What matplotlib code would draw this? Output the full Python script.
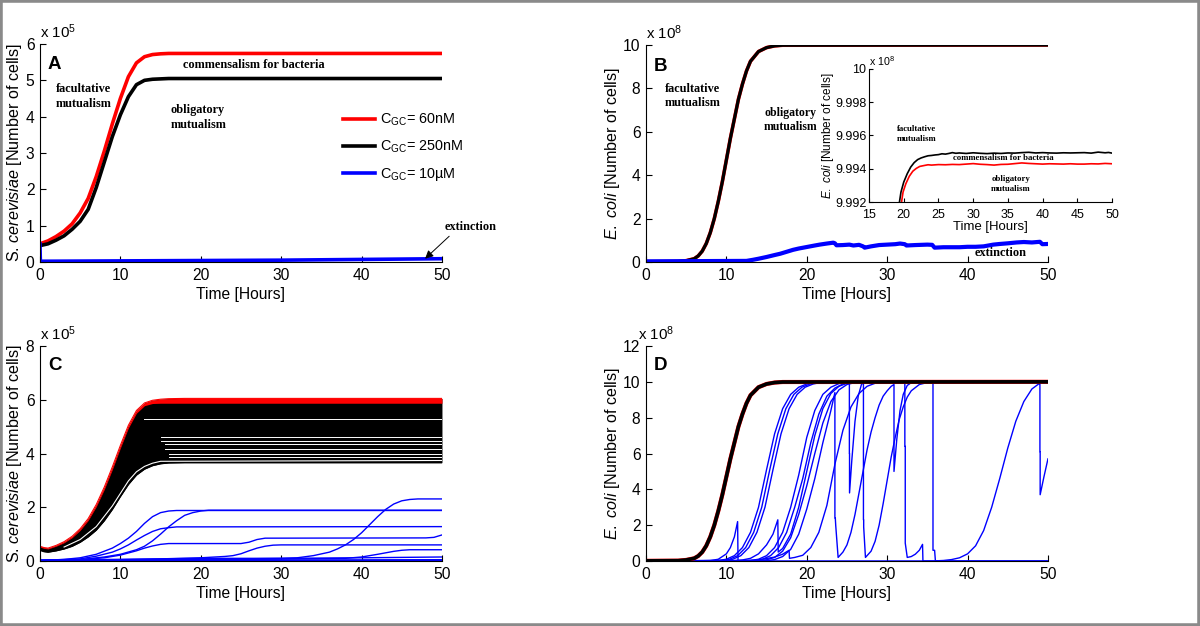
import matplotlib
matplotlib.use("Agg")
import matplotlib.pyplot as plt
from matplotlib.patches import Rectangle
from matplotlib import font_manager

_names = {f.name for f in font_manager.fontManager.ttflist}
if 'Liberation Sans Narrow' in _names:
    NARROW, SC = 'Liberation Sans Narrow', 1.0
else:
    NARROW, SC = 'Liberation Sans', 0.9
REG = 'Liberation Sans'
SERIF = ['Liberation Serif', 'DejaVu Serif']

plt.rcParams['font.family'] = [NARROW, 'DejaVu Sans']
plt.rcParams['mathtext.fontset'] = 'custom'
plt.rcParams['mathtext.rm'] = NARROW
plt.rcParams['mathtext.it'] = 'Liberation Sans:italic'
plt.rcParams['mathtext.bf'] = NARROW + ':bold'

# ---------------- data (values in units of the axis multiplier) ----------------
# Panel A (x 1e5)
a_t = [0, 1, 2, 3, 4, 5, 6, 7, 8, 9, 10, 11, 12, 13, 14, 15, 16, 18, 50]
a_red = [0.5, 0.58, 0.7, 0.85, 1.05, 1.35, 1.75, 2.35, 3.05, 3.8, 4.5, 5.1, 5.48, 5.65, 5.71, 5.73, 5.74, 5.74, 5.74]
a_black = [0.45, 0.5, 0.6, 0.72, 0.9, 1.12, 1.45, 2.05, 2.75, 3.45, 4.05, 4.55, 4.88, 5.0, 5.03, 5.04, 5.05, 5.05, 5.05]
a_blue_t = [0, 0.05, 10, 20, 30, 40, 50]
a_blue = [0.5, 0.02, 0.03, 0.04, 0.05, 0.07, 0.09]
legend_labels = [r'C$_{\rm GC}$= 60nM', r'C$_{\rm GC}$= 250nM', r'C$_{\rm GC}$= 10µM']

# Panel B (x 1e8)
b_t = [0, 4, 5, 6, 6.5, 7, 7.5, 8, 8.5, 9, 9.5, 10, 10.5, 11, 11.5, 12, 12.5, 13, 14, 15, 16, 17, 50]
b_black = [0.01, 0.02, 0.06, 0.15, 0.28, 0.5, 0.85, 1.35, 2.0, 2.8, 3.7, 4.7, 5.7, 6.6, 7.5, 8.2, 8.8, 9.25, 9.7, 9.88, 9.96, 9.99, 10]
b_blue = [(0, 0.03), (12.5, 0.05), (13.3, 0.1), (14, 0.15), (15, 0.23), (16, 0.32), (16.7, 0.38), (17.5, 0.47),
          (18.3, 0.56), (19, 0.62), (20, 0.69), (21, 0.76), (21.6, 0.8), (22.5, 0.85), (23.3, 0.89), (23.5, 0.86),
          (23.7, 0.77), (24.5, 0.78), (25.3, 0.8), (25.8, 0.76), (26.5, 0.79), (27, 0.72), (27.2, 0.66), (28, 0.72),
          (29, 0.78), (30, 0.8), (31, 0.82), (31.6, 0.85), (32.2, 0.82), (32.4, 0.76), (33.5, 0.78), (35, 0.8),
          (35.6, 0.79), (35.9, 0.66), (37, 0.68), (39, 0.68), (40, 0.7), (41, 0.7), (42, 0.72), (43.2, 0.8),
          (44, 0.83), (45, 0.86), (46.1, 0.9), (47, 0.92), (48, 0.9), (49, 0.93), (49.3, 0.82), (50, 0.83)]
inset_black = [(19.2, 9.9915), (19.6, 9.9926), (20.0, 9.9932), (20.5, 9.9937), (21.0, 9.9941), (21.5, 9.99437),
               (22.0, 9.99455), (22.5, 9.99465), (23, 9.99472), (23.5, 9.99478), (24, 9.9948), (24.5, 9.99483),
               (25, 9.99485), (25.5, 9.9949), (26, 9.99488), (26.5, 9.99492), (27, 9.99497), (27.5, 9.99493),
               (28, 9.99495), (29, 9.99492), (30, 9.99496), (31, 9.99493), (32, 9.99491), (33, 9.99494),
               (34, 9.99492), (35, 9.99495), (36, 9.99494), (37, 9.99497), (38, 9.99499), (39, 9.99495),
               (40, 9.99497), (41, 9.99495), (42, 9.99494), (43, 9.99496), (44, 9.99495), (45, 9.99496),
               (46, 9.99497), (47, 9.99494), (48, 9.995), (49, 9.99496), (49.5, 9.99498), (50, 9.99494)]
inset_red = [(19.5, 9.9915), (19.9, 9.9926), (20.3, 9.9931), (20.8, 9.99355), (21.3, 9.99385), (21.8, 9.99402),
             (22.3, 9.99414), (23, 9.9942), (23.5, 9.99424), (24, 9.99422), (25, 9.99425), (26, 9.99424),
             (27, 9.99426), (28, 9.99425), (29, 9.99428), (30, 9.99431), (31, 9.99427), (32, 9.99425),
             (33, 9.99422), (34, 9.99426), (35, 9.99427), (36, 9.99431), (37, 9.99435), (38, 9.99432),
             (39, 9.9943), (40, 9.99428), (41, 9.9943), (42, 9.99429), (43, 9.99428), (44, 9.9943),
             (45, 9.99428), (46, 9.99428), (47, 9.9943), (48, 9.99429), (49, 9.99432), (50, 9.9943)]

# Panel C (x 1e5): band of black/red trajectories, blue trajectories
c_t = [0, 0.5, 1, 2, 3, 4, 5, 6, 7, 8, 9, 10, 11, 12, 13, 14, 15, 16, 18, 20, 50]
c_upper = [0.55, 0.5, 0.48, 0.58, 0.72, 0.92, 1.2, 1.58, 2.1, 2.75, 3.5, 4.3, 5.05, 5.6, 5.88, 5.98, 6.02, 6.04, 6.05, 6.05, 6.05]
c_red_inner = [0.52, 0.47, 0.45, 0.55, 0.68, 0.87, 1.14, 1.51, 2.02, 2.66, 3.4, 4.2, 4.95, 5.5, 5.78, 5.86, 5.87, 5.87, 5.87, 5.87, 5.87]
c_lower = [0.4, 0.35, 0.33, 0.38, 0.45, 0.55, 0.7, 0.9, 1.15, 1.5, 1.92, 2.4, 2.85, 3.2, 3.42, 3.55, 3.62, 3.65, 3.66, 3.66, 3.66]
c_gap_levels = [5.3, 4.6, 4.47, 4.34, 4.17, 3.98, 3.86]
c_gap_start = [13.0, 15.0, 15.0, 15.5, 15.5, 16.0, 16.0]
c_white_rise = [(3, 0.52), (5, 0.8), (7, 1.28), (9, 2.05), (11, 2.98), (12, 3.32), (13, 3.52), (14, 3.64), (15, 3.71), (50, 3.74)]
c_blue = [
    [(0, 0.5), (0.05, 0.02), (3, 0.06), (5, 0.12), (7, 0.25), (9, 0.48), (10, 0.65), (11, 0.85), (12, 1.1), (13, 1.4), (14, 1.65), (15, 1.8), (16, 1.86), (17, 1.88), (50, 1.88)],
    [(0, 0.5), (0.05, 0.02), (5, 0.08), (7, 0.18), (9, 0.33), (10, 0.45), (11, 0.6), (12, 0.78), (13, 0.95), (14, 1.1), (15, 1.2), (16, 1.24), (17, 1.27), (50, 1.28)],
    [(0, 0.5), (0.05, 0.02), (5, 0.05), (8, 0.15), (10, 0.25), (12, 0.42), (13, 0.55), (14, 0.75), (15, 1.0), (16, 1.27), (17, 1.5), (18, 1.7), (19, 1.8), (20, 1.86), (21, 1.89), (50, 1.89)],
    [(0, 0.5), (0.05, 0.02), (5, 0.05), (8, 0.12), (10, 0.22), (12, 0.38), (13, 0.48), (14, 0.56), (15, 0.62), (16, 0.65), (25, 0.65), (26, 0.7), (27, 0.8), (28, 0.85), (48, 0.86), (49, 0.88), (50, 0.97)],
    [(0, 0.5), (0.05, 0.02), (10, 0.05), (15, 0.08), (20, 0.12), (23, 0.17), (24, 0.2), (25, 0.27), (26, 0.38), (27, 0.48), (28, 0.55), (29, 0.59), (30, 0.6), (50, 0.6)],
    [(0, 0.5), (0.05, 0.02), (20, 0.06), (30, 0.1), (32, 0.12), (34, 0.2), (36, 0.33), (37, 0.45), (38, 0.6), (39, 0.8), (40, 1.05), (41, 1.35), (42, 1.65), (43, 1.92), (44, 2.12), (45, 2.24), (46, 2.29), (47, 2.31), (50, 2.31)],
    [(0, 0.5), (0.05, 0.02), (30, 0.07), (38, 0.1), (40, 0.15), (42, 0.25), (44, 0.36), (45, 0.4), (46, 0.42), (50, 0.42)],
    [(0, 0.5), (0.05, 0.01), (50, 0.02)],
    [(0, 0.5), (0.05, 0.03), (15, 0.08), (20, 0.1), (30, 0.1), (40, 0.12), (50, 0.15)],
    [(0, 0.5), (0.05, 0.02), (50, 0.05)],
]

# Panel D (x 1e8): blue trajectories
d_blue = [
    [(0, 0), (8, 0.02), (9, 0.1), (10, 0.4), (10.5, 0.75), (11, 1.35), (11.4, 2.2), (11.45, 0.0), (50, 0)],
    [(0, 0), (9, 0.03), (10, 0.1), (11, 0.3), (12, 0.75), (13, 1.6), (14, 3.0), (15, 5.1), (16, 7.1), (17, 8.5), (18, 9.3), (19, 9.7), (20, 9.88), (21, 9.97), (50, 10)],
    [(0, 0), (9.4, 0.03), (10.4, 0.1), (11.4, 0.3), (12.4, 0.75), (13.4, 1.6), (14.4, 3.0), (15.4, 5.1), (16.4, 7.1), (17.4, 8.5), (18.4, 9.3), (19.4, 9.7), (20.4, 9.88), (21.4, 9.97), (50, 10)],
    [(0, 0), (9.8, 0.03), (10.8, 0.1), (11.8, 0.3), (12.8, 0.75), (13.8, 1.6), (14.8, 3.0), (15.8, 5.1), (16.8, 7.1), (17.8, 8.5), (18.8, 9.3), (19.8, 9.7), (20.8, 9.88), (21.8, 9.97), (50, 10)],
    [(0, 0), (11, 0.02), (12, 0.06), (13, 0.15), (14, 0.4), (15, 0.9), (15.8, 1.5), (16.4, 2.3), (16.45, 0.5), (17, 0.7), (18, 1.5), (19, 3.0), (20, 5.0), (21, 7.0), (22, 8.5), (23, 9.35), (24, 9.75), (25, 9.92), (26, 9.98), (50, 10)],
    [(0, 0), (12, 0.01), (14, 0.06), (16, 0.22), (17, 0.38), (17.8, 0.6), (17.85, 0.15), (18.5, 0.2), (19.5, 0.32), (20.5, 0.75), (21.5, 1.6), (22.5, 3.1), (23.5, 5.4), (24.5, 7.3), (25.5, 8.6), (26.5, 9.35), (27.5, 9.75), (28.5, 9.92), (29.5, 9.98), (50, 10)],
    [(0, 0), (13, 0.03), (14, 0.1), (15, 0.3), (16, 0.75), (17, 1.6), (18, 3.0), (19, 4.8), (20, 6.9), (21, 8.4), (22, 9.3), (23, 9.7), (24, 9.9), (25, 9.97), (50, 10)],
    [(0, 0), (13.5, 0.03), (14.5, 0.1), (15.5, 0.3), (16.5, 0.75), (17.5, 1.6), (18.5, 3.0), (19.5, 4.6), (20.5, 6.6), (21.5, 8.2), (22.5, 9.2), (23.5, 9.65), (24.5, 9.88), (25.3, 9.97),
     (25.3, 6.0), (25.32, 6.0), (25.32, 3.8), (25.6, 5.6), (26, 7.8), (26.4, 9.2), (26.8, 9.85), (27.05, 9.98), (27.05, 2.3), (27.08, 2.3), (27.08, 1.9), (27.3, 0.2),
     (28, 0.55), (28.5, 1.1), (29, 2.0), (29.5, 3.2), (30, 4.5), (30.5, 5.8), (31, 6.9), (31.5, 7.9), (32, 8.6), (32.5, 9.15), (33, 9.5), (34, 9.85), (35, 9.96), (35.7, 9.99),
     (35.7, 0.6), (35.9, 0.6), (36, 0.01), (37, 0.03), (38, 0.08), (39, 0.18), (40, 0.4), (41, 0.85), (42, 1.7), (43, 3.0), (44, 4.6), (45, 6.3), (46, 7.8), (47, 8.9), (48, 9.6), (48.9, 9.9),
     (49.0, 9.92), (49.0, 6.1), (49.03, 6.1), (49.03, 3.7), (49.5, 4.7), (50, 5.7)],
    [(0, 0), (14, 0.02), (15, 0.07), (16, 0.2), (17, 0.55), (18, 1.3), (19, 2.6), (20, 4.2), (21, 6.0), (22, 7.7), (23, 8.9), (24, 9.55), (25, 9.85), (26, 9.96), (27, 10), (32.2, 10),
     (32.2, 6.4), (32.25, 6.4), (32.25, 1.0), (32.5, 0.2), (33, 0.25), (33.5, 0.38), (34, 0.6), (34.4, 0.93), (34.45, 0.0), (50, 0)],
    [(0, 0), (15, 0.02), (16, 0.08), (17, 0.25), (18, 0.65), (19, 1.5), (20, 2.9), (21, 4.6), (22, 6.6), (23, 8.4), (23.5, 9.4), (23.5, 2.4), (23.55, 2.4), (23.6, 2.0), (23.9, 0.2),
     (24.5, 0.5), (25, 0.9), (25.5, 1.6), (26, 2.6), (26.5, 3.8), (27, 5.0), (27.5, 6.2), (28, 7.2), (28.5, 8.0), (29, 8.7), (29.5, 9.2), (30, 9.5), (30.5, 9.75), (30.85, 9.85),
     (30.85, 5.0), (31.2, 6.8), (31.6, 8.4), (32, 9.3), (32.5, 9.8), (33, 9.95), (34, 10), (50, 10)],
]

RED = '#ff0000'
BLUE = '#0000ff'
TICK_FS = 12.5 * SC
LAB_FS = 12.5 * SC
YLAB_FS = 11.6
ANN_FS = 8.8
INS_ANN_FS = 6.3

fig = plt.figure(figsize=(12, 6.26), dpi=100)
fig.patches.append(Rectangle((0, 0), 1, 1, transform=fig.transFigure, fill=False,
                             edgecolor='#8a8a8a', linewidth=4))


def style(ax, xlim, ylim, xt, yt, fs=TICK_FS, pad=4):
    ax.set_xlim(*xlim)
    ax.set_ylim(*ylim)
    ax.set_xticks(xt)
    ax.set_yticks(yt)
    for s in ['top', 'right']:
        ax.spines[s].set_visible(False)
    for s in ['left', 'bottom']:
        ax.spines[s].set_linewidth(0.8)
    ax.tick_params(direction='in', length=4, width=0.8, labelsize=fs, pad=pad)


def unzip(pairs):
    return [p[0] for p in pairs], [p[1] for p in pairs]


def ylab(ax, s, fs=YLAB_FS, pad=1):
    ax.set_ylabel(s, fontsize=fs, labelpad=pad, family=[REG, 'DejaVu Sans'])


# ---------------- Panel A ----------------
axA = fig.add_axes([0.0333, 0.5815, 0.335, 0.3482])
lr, = axA.plot(a_t, a_red, color=RED, lw=2.6)
lk, = axA.plot(a_t, a_black, color='black', lw=2.6)
lb, = axA.plot(a_blue_t, a_blue, color=BLUE, lw=2.6)
style(axA, (0, 50), (0, 6), range(0, 51, 10), range(0, 7))
axA.set_xlabel('Time [Hours]', fontsize=LAB_FS, labelpad=3)
ylab(axA, r'S. $\it{cerevisiae}$ [Number of cells]')
axA.text(0, 1.015, r'x 10$^{5}$', transform=axA.transAxes, fontsize=12 * SC, va='bottom')
axA.text(1.0, 5.43, 'A', fontsize=15 * SC, fontweight='bold', va='center')
axA.text(26.6, 5.43, 'commensalism for bacteria', family=SERIF, fontweight='bold', fontsize=ANN_FS, ha='center', va='center')
axA.text(2.0, 4.55, 'facultative\nmutualism', family=SERIF, fontweight='bold', fontsize=ANN_FS, va='center', linespacing=1.3)
axA.text(16.2, 3.98, 'obligatory\nmutualism', family=SERIF, fontweight='bold', fontsize=ANN_FS, va='center', linespacing=1.3)
axA.annotate('extinction', xy=(47.9, 0.09), xytext=(50.3, 0.95), family=SERIF, fontweight='bold', fontsize=ANN_FS,
             va='center', ha='left', annotation_clip=False,
             arrowprops=dict(arrowstyle='-|>', color='black', lw=0.7, shrinkA=0, shrinkB=0,
                             mutation_scale=12, relpos=(0.15, 0)))
axA.legend([lr, lk, lb], legend_labels, frameon=False, loc='upper left', bbox_to_anchor=(0.754, 0.69),
           borderaxespad=0, borderpad=0, handlelength=2.2, handletextpad=0.35, labelspacing=0.75,
           fontsize=11.5 * SC)

# ---------------- Panel B ----------------
axB = fig.add_axes([0.5383, 0.5815, 0.335, 0.3466])
axB.plot(b_t, b_black, color=RED, lw=2.6)
axB.plot(b_t, b_black, color='black', lw=2.3)
bt, bv = unzip(b_blue)
axB.plot(bt, bv, color=BLUE, lw=3.0)
style(axB, (0, 50), (0, 10), range(0, 51, 10), range(0, 11, 2))
axB.set_xlabel('Time [Hours]', fontsize=LAB_FS, labelpad=3)
ylab(axB, r'$\it{E.\ coli}$ [Number of cells]')
axB.text(0, 1.015, r'x 10$^{8}$', transform=axB.transAxes, fontsize=12 * SC, va='bottom')
axB.text(1.0, 9.0, 'B', fontsize=15 * SC, fontweight='bold', va='center')
axB.text(2.3, 7.65, 'facultative\nmutualism', family=SERIF, fontweight='bold', fontsize=ANN_FS, va='center', linespacing=1.3)
axB.text(14.7, 6.55, 'obligatory\nmutualism', family=SERIF, fontweight='bold', fontsize=8.5, va='center', linespacing=1.3)
axB.text(44.1, 0.42, 'extinction', family=SERIF, fontweight='bold', fontsize=ANN_FS, va='center', ha='center')

# inset
axI = fig.add_axes([0.7242, 0.6773, 0.2025, 0.2125])
it, iv = unzip(inset_black)
rt, rv = unzip(inset_red)
axI.plot(rt, rv, color=RED, lw=1.2)
axI.plot(it, iv, color='black', lw=1.2)
style(axI, (15, 50), (9.992, 10.0), range(15, 51, 5), [9.992, 9.994, 9.996, 9.998, 10.0], fs=10 * SC, pad=2)
axI.set_yticklabels(['9.992', '9.994', '9.996', '9.998', '10'])
axI.tick_params(length=3)
axI.tick_params(axis='x', pad=5)
axI.set_xlabel('Time [Hours]', fontsize=10.5 * SC, labelpad=0)
ylab(axI, r'$\it{E.\ coli}$ [Number of cells]', fs=8.5, pad=1)
axI.yaxis.set_label_coords(-0.135, 0.5)
axI.text(0, 1.01, r'x 10$^{8}$', transform=axI.transAxes, fontsize=8.5 * SC, va='bottom')
axI.text(19.0, 9.9961, 'facultative\nmutualism', family=SERIF, fontweight='bold', fontsize=INS_ANN_FS, va='center', linespacing=1.3)
axI.text(34.4, 9.99462, 'commensalism for bacteria', family=SERIF, fontweight='bold', fontsize=INS_ANN_FS, va='center', ha='center')
axI.text(32.6, 9.99308, 'obligatory\nmutualism', family=SERIF, fontweight='bold', fontsize=INS_ANN_FS, va='center', linespacing=1.3)

# ---------------- Panel C ----------------
axC = fig.add_axes([0.0333, 0.1038, 0.335, 0.3435])
axC.fill_between(c_t, c_lower, c_upper, color='black', lw=0)
axC.fill_between(c_t, c_red_inner, c_upper, color=RED, lw=0)
axC.plot(c_t, c_upper, color=RED, lw=0.8)
axC.plot(c_t, c_lower, color='black', lw=1.0)
for lvl, t0 in zip(c_gap_levels, c_gap_start):
    axC.plot([t0, 50], [lvl, lvl], color='white', lw=0.7)
wt, wv = unzip(c_white_rise)
axC.plot(wt, wv, color='white', lw=0.8)
for traj in c_blue:
    tt, vv = unzip(traj)
    axC.plot(tt, vv, color=BLUE, lw=1.0)
style(axC, (0, 50), (0, 8), range(0, 51, 10), range(0, 9, 2))
axC.set_xlabel('Time [Hours]', fontsize=LAB_FS, labelpad=3)
ylab(axC, r'S. $\it{cerevisiae}$ [Number of cells]')
axC.text(0, 1.015, r'x 10$^{5}$', transform=axC.transAxes, fontsize=12 * SC, va='bottom')
axC.text(1.0, 7.26, 'C', fontsize=15 * SC, fontweight='bold', va='center')

# ---------------- Panel D ----------------
axD = fig.add_axes([0.5383, 0.1038, 0.335, 0.3435])
for traj in d_blue:
    tt, vv = unzip(traj)
    axD.plot(tt, vv, color=BLUE, lw=1.0)
axD.plot([0, 50], [0, 0], color=BLUE, lw=1.0)
axD.plot(b_t, b_black, color=RED, lw=3.0)
axD.plot(b_t, b_black, color='black', lw=2.6)
style(axD, (0, 50), (0, 12), range(0, 51, 10), range(0, 13, 2))
axD.set_xlabel('Time [Hours]', fontsize=LAB_FS, labelpad=3)
ylab(axD, r'$\it{E.\ coli}$ [Number of cells]')
axD.text(-0.02, 1.015, r'x 10$^{8}$', transform=axD.transAxes, fontsize=12 * SC, va='bottom')
axD.text(1.0, 10.9, 'D', fontsize=15 * SC, fontweight='bold', va='center')

fig.savefig('out.png', dpi=100)
